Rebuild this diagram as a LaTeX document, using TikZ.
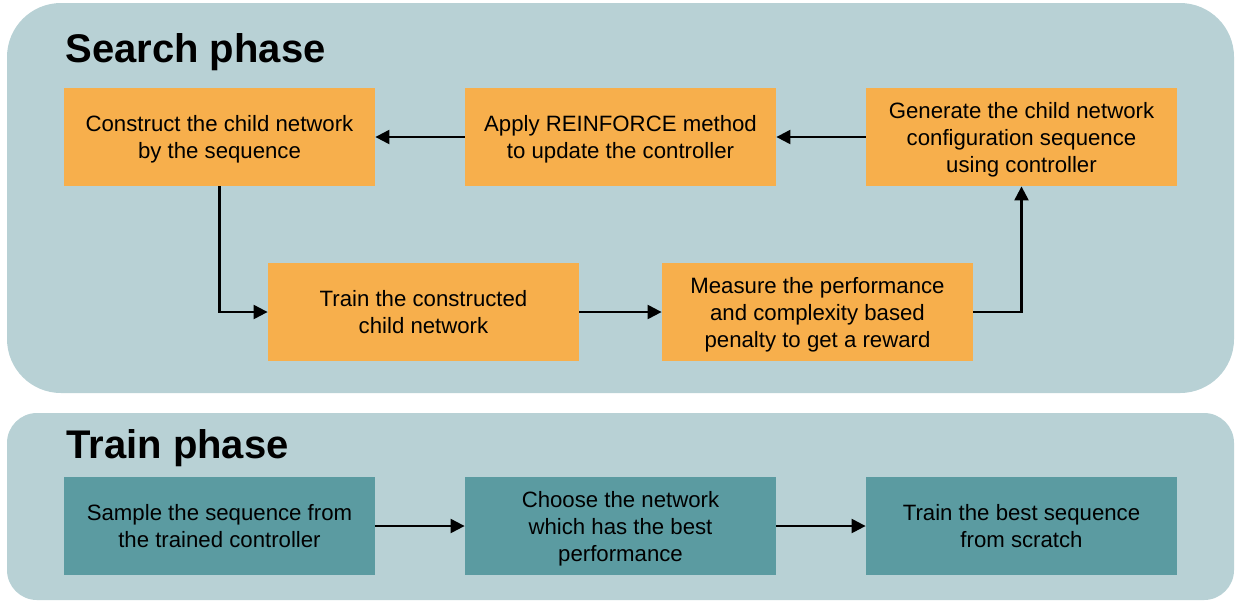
\documentclass[tikz,border=0pt]{standalone}
\usepackage{fontspec}
\setmainfont{Liberation Sans}
\usetikzlibrary{arrows.meta}
\definecolor{panelbg}{RGB}{184,209,213}
\definecolor{orangebox}{RGB}{247,175,76}
\definecolor{tealbox}{RGB}{91,155,161}
\tikzset{
  panel/.style={fill=panelbg, draw=none, inner sep=0pt},
  stepbox/.style={draw=none, minimum width=155.5pt, minimum height=49pt, inner sep=0pt},
  obox/.style={stepbox, fill=orangebox},
  tbox/.style={stepbox, fill=tealbox},
  boxtext/.style={inner sep=0pt, align=center, text depth=2.6pt, yshift=-1.3pt,
    font=\fontsize{11.1pt}{13.5pt}\selectfont},
  phasetitle/.style={font=\fontsize{20pt}{24pt}\selectfont\bfseries, anchor=base west, inner sep=0pt},
  conn/.style={line width=1.1pt, -{Triangle[length=7pt,width=7pt]}}
}
\begin{document}
\begin{tikzpicture}[x=0.5pt,y=-0.5pt]
\useasboundingbox (0,0) rectangle (1236,601);
\fill[white] (0,0) rectangle (1236,601);
\node[panel, rounded corners=27pt, minimum width=613.5pt, minimum height=195pt] (search) at (620.5,198) {};
\node[panel, rounded corners=15pt, minimum width=613.5pt, minimum height=93.5pt] (train) at (620.5,506.5) {};
\node[phasetitle] (st) at (65,62) {Search phase};
\node[phasetitle] (tt) at (66,458) {Train phase};

\node[obox] (A) at (219.5,137) {};
\node[obox] (B) at (620.5,137) {};
\node[obox] (C) at (1021.5,137) {};
\node[obox] (D) at (423.5,312) {};
\node[obox] (E) at (817.5,312) {};
\node[tbox] (F) at (219.5,526) {};
\node[tbox] (G) at (620.5,526) {};
\node[tbox] (H) at (1021.5,526) {};

\node[boxtext] (At) at (A.center) {Construct the child network\\by the sequence};
\node[boxtext] (Bt) at (B.center) {Apply REINFORCE method\\to update the controller};
\node[boxtext] (Ct) at (C.center) {Generate the child network\\configuration sequence\\using controller};
\node[boxtext] (Dt) at (D.center) {Train the constructed\\child network};
\node[boxtext] (Et) at (E.center) {Measure the performance\\and complexity based\\penalty to get a reward};
\node[boxtext] (Ft) at (F.center) {Sample the sequence from\\the trained controller};
\node[boxtext] (Gt) at (G.center) {Choose the network\\which has the best\\performance};
\node[boxtext] (Ht) at (H.center) {Train the best sequence\\from scratch};

\draw[conn] (C.west) -- (B.east);
\draw[conn] (B.west) -- (A.east);
\draw[conn] (A.south) |- (D.west);
\draw[conn] (D.east) -- (E.west);
\draw[conn] (E.east) -| (C.south);
\draw[conn] (F.east) -- (G.west);
\draw[conn] (G.east) -- (H.west);
\end{tikzpicture}
\end{document}
